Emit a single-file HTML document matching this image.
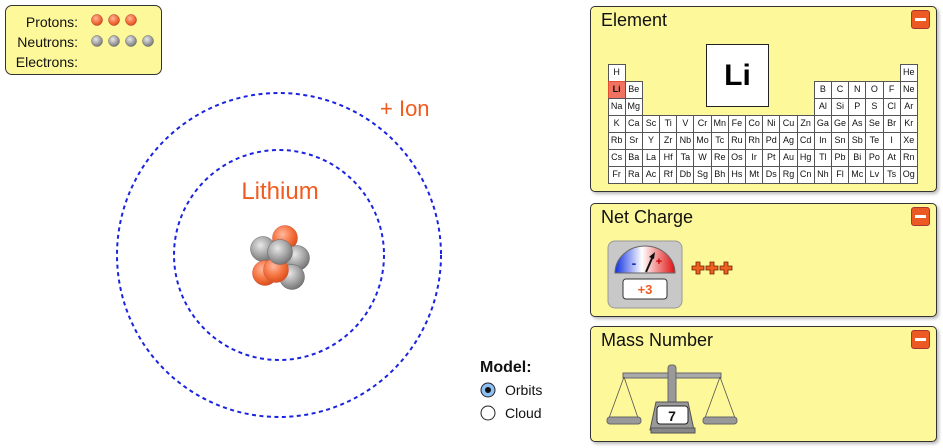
<!DOCTYPE html>
<html><head><meta charset="utf-8"><style>
*{margin:0;padding:0;box-sizing:border-box}
body{width:943px;height:448px;background:#fff;position:relative;overflow:hidden;font-family:"Liberation Sans",sans-serif}
.panel{position:absolute;left:590px;width:347px;background:#fdf89a;border:1px solid #333;border-radius:5px;box-shadow:2px 2px 3px #bbb}
.panel .t{position:absolute;left:10px;top:3px;font-size:18px;color:#111}
.min{position:absolute;right:6px;top:3px;width:19px;height:19px;background:#ec5a24;border:1px solid #a33;border-radius:3px}
.min:after{content:"";position:absolute;left:3px;top:7px;width:11px;height:3px;background:#fff}
.grid{position:absolute;left:17px;top:57px;display:grid;grid-template-columns:repeat(18,17.2px);grid-template-rows:repeat(7,17px)}
.grid div{background:#fff;border:1px solid #555;margin:-0.5px;font-size:9px;text-align:center;line-height:15px;color:#111}
.e{visibility:hidden}
</style></head><body>
<div style="position:absolute;left:5px;top:5px;width:157px;height:70px;background:#fdf89a;border:1px solid #333;border-radius:7px;font-size:14px;color:#111">
<div style="position:absolute;right:83px;top:6px;text-align:right;line-height:20px">Protons:<br>Neutrons:<br>Electrons:</div>
</div>
<svg width="943" height="448" style="position:absolute;left:0;top:0">
<defs>
<radialGradient id="o" cx="0.4" cy="0.35" r="0.65"><stop offset="0" stop-color="#ffb9a0"/><stop offset="0.6" stop-color="#f5733f"/><stop offset="1" stop-color="#d9501e"/></radialGradient>
<radialGradient id="g" cx="0.4" cy="0.35" r="0.65"><stop offset="0" stop-color="#e8e8e8"/><stop offset="0.6" stop-color="#a5a5a5"/><stop offset="1" stop-color="#777"/></radialGradient>
<linearGradient id="gauge" x1="0" x2="1"><stop offset="0" stop-color="#1030e0"/><stop offset="0.45" stop-color="#fff"/><stop offset="1" stop-color="#e01010"/></linearGradient>
</defs>
<g stroke="#a33" stroke-width="0.5"><circle cx="97" cy="20" r="5.5" fill="url(#o)"/><circle cx="114" cy="20" r="5.5" fill="url(#o)"/><circle cx="131" cy="20" r="5.5" fill="url(#o)"/></g>
<g stroke="#666" stroke-width="0.5"><circle cx="97" cy="41" r="5.5" fill="url(#g)"/><circle cx="114" cy="41" r="5.5" fill="url(#g)"/><circle cx="131" cy="41" r="5.5" fill="url(#g)"/><circle cx="148" cy="41" r="5.5" fill="url(#g)"/></g>
<circle cx="279" cy="255" r="105" fill="none" stroke="#1a24e0" stroke-width="2" stroke-dasharray="4,3.5"/>
<circle cx="279" cy="255" r="162" fill="none" stroke="#1a24e0" stroke-width="2" stroke-dasharray="4,3.5"/>
<text x="280" y="199" font-size="24" fill="#f25b1f" text-anchor="middle" font-family="Liberation Sans">Lithium</text>
<text x="380" y="116" font-size="22" fill="#f25b1f" font-family="Liberation Sans">+ Ion</text>
<g stroke-width="0.5">
<circle cx="285" cy="238" r="12.5" fill="url(#o)" stroke="#c54"/>
<circle cx="263" cy="249" r="12.5" fill="url(#g)" stroke="#666"/>
<circle cx="297" cy="258" r="12.5" fill="url(#g)" stroke="#666"/>
<circle cx="292" cy="277" r="12.5" fill="url(#g)" stroke="#666"/>
<circle cx="265" cy="273" r="12.5" fill="url(#o)" stroke="#c54"/>
<circle cx="276" cy="270" r="12.5" fill="url(#o)" stroke="#c54"/>
<circle cx="280" cy="252" r="12.5" fill="url(#g)" stroke="#666"/>
</g>
<text x="480" y="372" font-size="16" font-weight="bold" fill="#111" font-family="Liberation Sans">Model:</text>
<circle cx="488" cy="390" r="7" fill="#8fc0f5" stroke="#222" stroke-width="1"/><circle cx="488" cy="390" r="3" fill="#111"/>
<text x="505" y="395" font-size="14" fill="#111" font-family="Liberation Sans">Orbits</text>
<circle cx="488" cy="413" r="7" fill="#fff" stroke="#222" stroke-width="1"/>
<text x="505" y="418" font-size="14" fill="#111" font-family="Liberation Sans">Cloud</text>
</svg>

<div class="panel" style="top:6px;height:186px"><div class="t">Element</div><div class="min"></div>
<div style="position:absolute;left:115px;top:37px;width:63px;height:63px;background:#fff;border:1px solid #222;font-size:30px;font-weight:bold;text-align:center;line-height:61px">Li</div>
<div class="grid">
<div>H</div><div class="e"></div><div class="e"></div><div class="e"></div><div class="e"></div><div class="e"></div><div class="e"></div><div class="e"></div><div class="e"></div><div class="e"></div><div class="e"></div><div class="e"></div><div class="e"></div><div class="e"></div><div class="e"></div><div class="e"></div><div class="e"></div><div>He</div>
<div style="background:#f07260;border-color:#e05030;font-weight:bold">Li</div><div>Be</div><div class="e"></div><div class="e"></div><div class="e"></div><div class="e"></div><div class="e"></div><div class="e"></div><div class="e"></div><div class="e"></div><div class="e"></div><div class="e"></div><div>B</div><div>C</div><div>N</div><div>O</div><div>F</div><div>Ne</div>
<div>Na</div><div>Mg</div><div class="e"></div><div class="e"></div><div class="e"></div><div class="e"></div><div class="e"></div><div class="e"></div><div class="e"></div><div class="e"></div><div class="e"></div><div class="e"></div><div>Al</div><div>Si</div><div>P</div><div>S</div><div>Cl</div><div>Ar</div>
<div>K</div><div>Ca</div><div>Sc</div><div>Ti</div><div>V</div><div>Cr</div><div>Mn</div><div>Fe</div><div>Co</div><div>Ni</div><div>Cu</div><div>Zn</div><div>Ga</div><div>Ge</div><div>As</div><div>Se</div><div>Br</div><div>Kr</div>
<div>Rb</div><div>Sr</div><div>Y</div><div>Zr</div><div>Nb</div><div>Mo</div><div>Tc</div><div>Ru</div><div>Rh</div><div>Pd</div><div>Ag</div><div>Cd</div><div>In</div><div>Sn</div><div>Sb</div><div>Te</div><div>I</div><div>Xe</div>
<div>Cs</div><div>Ba</div><div>La</div><div>Hf</div><div>Ta</div><div>W</div><div>Re</div><div>Os</div><div>Ir</div><div>Pt</div><div>Au</div><div>Hg</div><div>Tl</div><div>Pb</div><div>Bi</div><div>Po</div><div>At</div><div>Rn</div>
<div>Fr</div><div>Ra</div><div>Ac</div><div>Rf</div><div>Db</div><div>Sg</div><div>Bh</div><div>Hs</div><div>Mt</div><div>Ds</div><div>Rg</div><div>Cn</div><div>Nh</div><div>Fl</div><div>Mc</div><div>Lv</div><div>Ts</div><div>Og</div>
</div></div>

<div class="panel" style="top:203px;height:114px"><div class="t">Net Charge</div><div class="min"></div>
<svg width="200" height="110" style="position:absolute;left:0;top:0">
<rect x="17" y="37" width="74" height="67" rx="7" fill="#c8c8c8" stroke="#999"/>
<path d="M24 69 A30 27 0 0 1 84 69 Z" fill="url(#gauge)" stroke="#666"/>
<text x="43" y="64" font-size="14" font-weight="bold" fill="#1030c0" text-anchor="middle">-</text>
<text x="68" y="61" font-size="11" font-weight="bold" fill="#c00" text-anchor="middle">+</text>
<line x1="55" y1="68" x2="62" y2="52" stroke="#111" stroke-width="2"/>
<polygon points="64,48 58,53 63,55" fill="#111"/>
<rect x="32" y="75" width="44" height="20" rx="3" fill="#fff" stroke="#333"/>
<text x="54" y="90" font-size="13" font-weight="bold" fill="#f25b1f" text-anchor="middle">+3</text>
<g fill="#f06020" stroke="#6a2000" stroke-width="0.8">
<path d="M101 62 h4 v-4 h4 v4 h4 v4 h-4 v4 h-4 v-4 h-4 z"/>
<path d="M115 62 h4 v-4 h4 v4 h4 v4 h-4 v4 h-4 v-4 h-4 z"/>
<path d="M129 62 h4 v-4 h4 v4 h4 v4 h-4 v4 h-4 v-4 h-4 z"/>
</g></svg></div>

<div class="panel" style="top:326px;height:116px"><div class="t">Mass Number</div><div class="min"></div>
<svg width="200" height="115" style="position:absolute;left:0;top:0">
<rect x="32" y="46" width="98" height="5" fill="#aaa" stroke="#666"/>
<rect x="77" y="38" width="8" height="50" rx="3" fill="#999" stroke="#666"/>
<g stroke="#555" fill="none" stroke-width="0.8"><path d="M33 50 L18 91 M33 50 L47 91 M129 50 L114 91 M129 50 L144 91"/></g>
<rect x="16" y="90" width="34" height="7" rx="3" fill="#999" stroke="#666"/>
<rect x="112" y="90" width="34" height="7" rx="3" fill="#999" stroke="#666"/>
<path d="M65 75 h32 l6 28 h-44 z" fill="#999" stroke="#555"/>
<rect x="60" y="101" width="44" height="5" fill="#888" stroke="#555"/>
<rect x="66" y="79" width="31" height="18" rx="3" fill="#fff" stroke="#222"/>
<text x="81" y="94" font-size="14" font-weight="bold" text-anchor="middle" fill="#111">7</text>
</svg></div>
</body></html>
